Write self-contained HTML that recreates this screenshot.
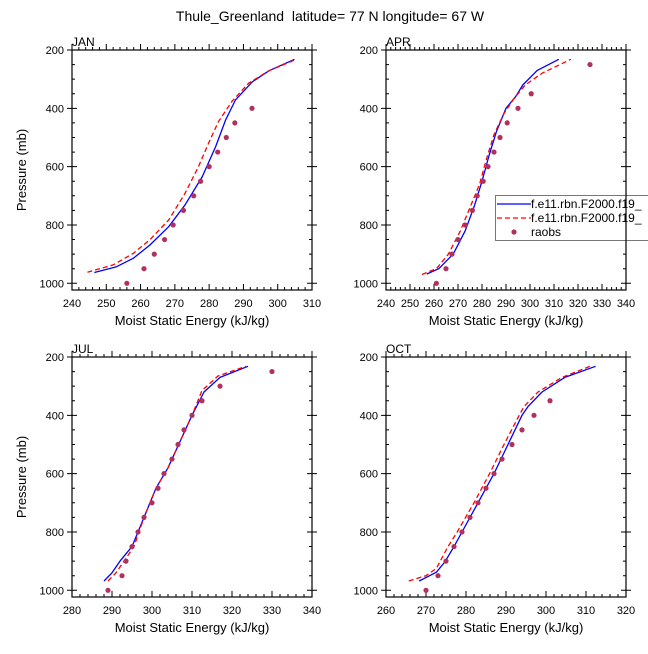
<!DOCTYPE html>
<html><head><meta charset="utf-8"><style>
body{margin:0;background:#fff;}
svg text{font-family:"Liberation Sans",sans-serif;fill:#000;}
</style></head><body>
<svg id="s" width="648" height="649" viewBox="0 0 648 649" xmlns="http://www.w3.org/2000/svg">
<text x="330" y="21" font-size="14" text-anchor="middle" style="white-space:pre">Thule_Greenland  latitude= 77 N longitude= 67 W</text>
</svg>
<script>
// JAN
const janBlueX=[246.5,253,257.9,262.7,268.2,273,278,281.9,284.8,287.7,292.6,297.5,304.9];
const janBlueP=[963,943,914,869,806,731,634,531,440,371,309,271,232];
const janRedX=[244.5,252,257.9,262.7,268.2,273,276.9,279.8,282.7,286.6,291.5,297.5,305];
const janRedP=[962,937,897,851,783,691,600,520,446,377,314,271,234];
const janObsX=[256,261,264,267,269.5,272.5,275.5,277.5,280,282.5,285,287.5,292.5];
const janObsP=[1000,950,900,850,800,750,700,650,600,550,500,450,400];
// APR
const aprBlueX=[257,262,268,273,277,280,283,286,290,294,297,303,312];
const aprBlueP=[968,950,900,820,730,650,560,480,400,360,320,270,232];
const aprRedX=[255,261,266,271,275,279,282,285,289,293,298,305,317];
const aprRedP=[970,950,900,820,740,660,570,490,420,370,320,280,232];
const aprObsX=[261,265,267.5,270,273,276,278,280.5,282.5,285,287.5,290.5,295,300.5,325];
const aprObsP=[1000,950,900,850,800,750,700,650,600,550,500,450,400,350,250];
// JUL
const julBlueX=[288,290,292,295,298,301,304,307,310,313,317,324];
const julBlueP=[968,940,900,850,750,650,580,490,400,320,270,232];
const julRedX=[289,291,293,295.5,298,301,304,307,310,312.5,316.5,323.5];
const julRedP=[968,940,900,850,750,650,580,490,400,315,265,232];
const julObsX=[289,292.5,293.5,295,296.5,298,300,301.5,303,305,306.5,308,310,312.5,317,330];
const julObsP=[1000,950,900,850,800,750,700,650,600,550,500,450,400,350,300,250];
// OCT
const octBlueX=[268.3,272.6,274.7,277,279,283,287,290.5,294,295.5,299,304.7,312.4];
const octBlueP=[968,938,903,850,800,700,600,500,400,370,320,270,232];
const octRedX=[265.7,270,272.6,275.5,277.8,282,285.9,289.5,293.3,294.5,298,304,311];
const octRedP=[968,950,925,850,800,700,600,500,400,370,320,270,232];
const octObsX=[270,273,275,277,279,281,283,285,287,289,291.5,294,297,301];
const octObsP=[1000,950,900,850,800,750,700,650,600,550,500,450,400,350];
const yTicks=[200,400,600,800,1000];
const panels=[
 {name:'jan',label:'JAN',l:72,t:50,xmin:240,xmax:310,bx:janBlueX,bp:janBlueP,rx:janRedX,rp:janRedP,ox:janObsX,op:janObsP,ylab:true},
 {name:'apr',label:'APR',l:386,t:50,xmin:240,xmax:340,bx:aprBlueX,bp:aprBlueP,rx:aprRedX,rp:aprRedP,ox:aprObsX,op:aprObsP,ylab:false},
 {name:'jul',label:'JUL',l:72,t:357,xmin:280,xmax:340,bx:julBlueX,bp:julBlueP,rx:julRedX,rp:julRedP,ox:julObsX,op:julObsP,ylab:true},
 {name:'oct',label:'OCT',l:386,t:357,xmin:260,xmax:320,bx:octBlueX,bp:octBlueP,rx:octRedX,rp:octRedP,ox:octObsX,op:octObsP,ylab:false}
];
const NS='http://www.w3.org/2000/svg';
const svg=document.getElementById('s');
function mk(tag,attrs,parent){const e=document.createElementNS(NS,tag);for(const k in attrs)e.setAttribute(k,attrs[k]);(parent||svg).appendChild(e);return e;}
const W=240,H=240,PMIN=200,PMAX=1023;
panels.forEach(p=>{
 const g=mk('g',{});
 
 
 const sx=v=>p.l+(v-p.xmin)/(p.xmax-p.xmin)*W;
 const sy=v=>p.t+(v-PMIN)/(PMAX-PMIN)*H;
 const r=p.l+W,b=p.t+H;
 let d='';
 for(let v=p.xmin;v<=p.xmax;v+=2){const x=sx(v);const L=((v-p.xmin)%10===0)?6:3;d+=`M${x} ${b}v${-L}M${x} ${p.t}v${-L}`;}
 for(let v=200;v<=1000;v+=50){const y=sy(v);const maj=v%200===0;
  if(maj)d+=`M${p.l-5} ${y}h10M${r-5} ${y}h10`;else d+=`M${p.l} ${y}h3M${r} ${y}h-3`;}
 const tk=mk('path',{d:d,stroke:'#000','stroke-width':1,fill:'none'},g);
 
 
 for(let v=p.xmin;v<=p.xmax;v+=10){const t=mk('text',{x:sx(v),y:b+17,'font-size':11,'text-anchor':'middle'},g);t.textContent=v;
  
  }
 yTicks.forEach(v=>{const t=mk('text',{x:p.l-8,y:sy(v)+4,'font-size':11,'text-anchor':'end'},g);t.textContent=v;
  
  });
 const xt=mk('text',{x:p.l+W/2,y:b+35,'font-size':13,'text-anchor':'middle'},g);xt.textContent='Moist Static Energy (kJ/kg)';
 
 
 if(p.ylab){const yt=mk('text',{x:0,y:0,'font-size':13,'text-anchor':'middle',transform:`translate(26 ${p.t+H/2}) rotate(-90)`},g);yt.textContent='Pressure (mb)';
  
  }
 const lb=mk('text',{x:p.l,y:p.t-4,'font-size':12},g);lb.textContent=p.label;
 
 
 const pts=(xs,ps)=>xs.map((x,i)=>sx(x).toFixed(1)+','+sy(ps[i]).toFixed(1)).join(' ');
 const bl=mk('polyline',{points:pts(p.bx,p.bp),fill:'none',stroke:'#0000ff','stroke-width':1.3,'stroke-linejoin':'round'},g);
 
 
 const rl=mk('polyline',{points:pts(p.rx,p.rp),fill:'none',stroke:'#ff0000','stroke-width':1.3,'stroke-dasharray':'5,3','stroke-linejoin':'round'},g);
 
 
 p.ox.forEach((x,i)=>{const c=mk('circle',{cx:sx(x),cy:sy(p.op[i]),r:2.6,fill:'#b03060'},g);
  
  });
 if(p.name==='apr'){
  const lg=mk('g',{},g);
  
  
  mk('rect',{x:495.5,y:195.5,width:160,height:45,fill:'#fff',stroke:'#777','stroke-width':1},lg);
  mk('line',{x1:497,y1:204,x2:531,y2:204,stroke:'#0000ff','stroke-width':1.3},lg);
  mk('line',{x1:497,y1:218,x2:531,y2:218,stroke:'#ff0000','stroke-width':1.3,'stroke-dasharray':'5,3'},lg);
  mk('circle',{cx:514,cy:232,r:2.6,fill:'#b03060'},lg);
  [['f.e11.rbn.F2000.f19_',208],['f.e11.rbn.F2000.f19_',222],['raobs',236]].forEach(([s,y],i)=>{const t=mk('text',{x:531,y:y,'font-size':12},lg);t.textContent=s;
   
   });
 }
 const fr=mk('rect',{x:p.l,y:p.t,width:W,height:H,fill:'none',stroke:'#000','stroke-width':1.2},g);
 
 
});
</script>
</body></html>
